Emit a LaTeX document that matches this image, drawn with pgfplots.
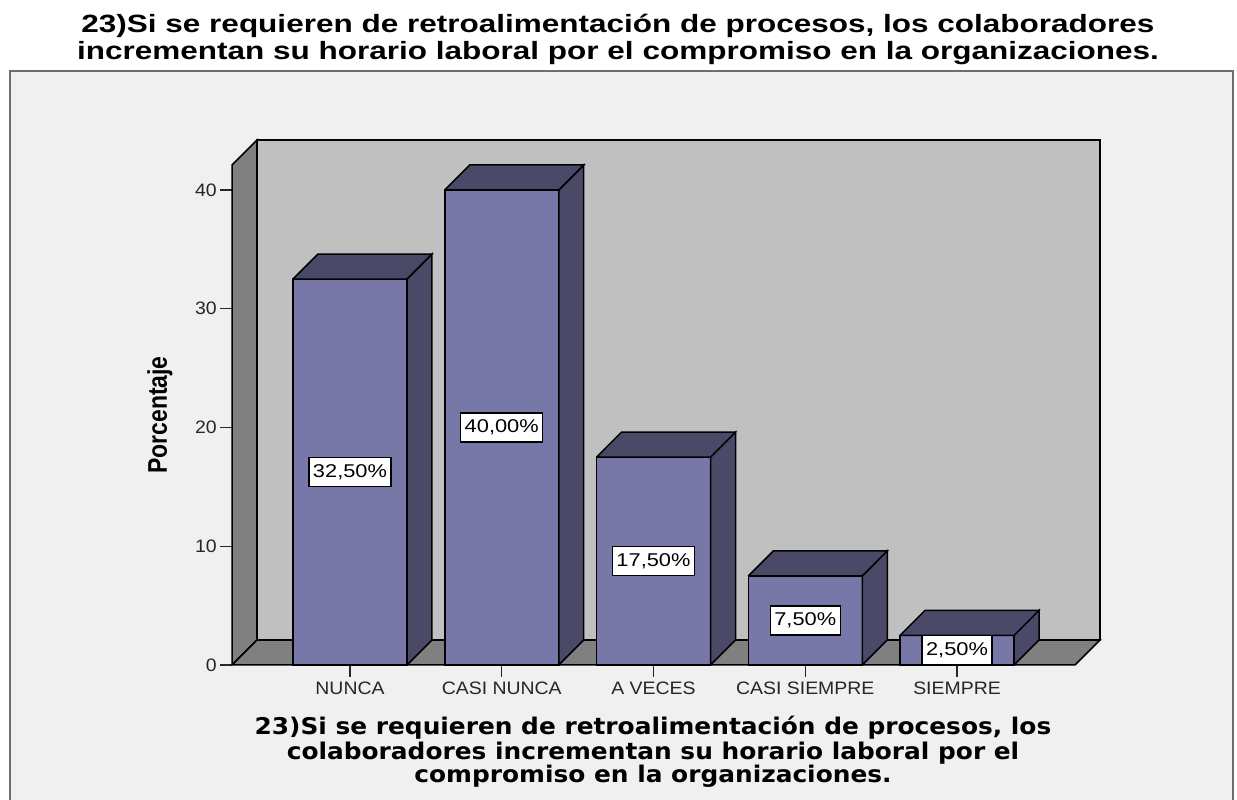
\documentclass[border=0pt]{standalone}
\usepackage{pgfplots}
\pgfplotsset{compat=1.18}
\usepackage{fontspec}
\setmainfont{Liberation Sans}
\newfontfamily\titlefont[FakeStretch=1.26]{Liberation Sans}
\newfontfamily\ticksfont[FakeStretch=1.08]{Liberation Sans}
\newfontfamily\valfont[FakeStretch=1.18]{Liberation Sans}
\newfontfamily\ylabfont[FakeStretch=0.85]{Liberation Sans}
\newfontfamily\dejavu[FakeStretch=1.08]{DejaVu Sans}
\definecolor{outerbg}{HTML}{F0F0F0}
\definecolor{backwall}{HTML}{C0C0C0}
\definecolor{sidewall}{HTML}{808080}
\definecolor{barfront}{HTML}{7878A8}
\definecolor{barside}{HTML}{4A4A68}
\definecolor{framecol}{HTML}{6E6E6E}
\begin{document}
\begin{tikzpicture}[x=1pt,y=1pt]
\useasboundingbox (0,0) rectangle (1237,800);
\fill[white] (0,0) rectangle (1237,800);
\draw[framecol, fill=outerbg, line width=2pt] (10,729) rectangle (1233,-10);
\node[anchor=base, font=\titlefont\bfseries\fontsize{25}{27}\selectfont] at (618,767) {23)Si se requieren de retroalimentación de procesos, los colaboradores};
\node[anchor=base, font=\titlefont\bfseries\fontsize{25}{27}\selectfont] at (618,740) {incrementan su horario laboral por el compromiso en la organizaciones.};
\node[anchor=base, font=\dejavu\bfseries\fontsize{23}{25}\selectfont] at (653,65) {23)Si se requieren de retroalimentación de procesos, los};
\node[anchor=base, font=\dejavu\bfseries\fontsize{23}{25}\selectfont] at (653,40) {colaboradores incrementan su horario laboral por el};
\node[anchor=base, font=\dejavu\bfseries\fontsize{23}{25}\selectfont] at (653,17) {compromiso en la organizaciones.};
\node[rotate=90, font=\ylabfont\bfseries\fontsize{27}{29}\selectfont] at (160,385) {Porcentaje};
\begin{axis}[
  at={(232pt,135pt)}, anchor=south west,
  scale only axis, width=868pt, height=525pt,
  xmin=-0.7776, xmax=4.9423, ymin=0, ymax=44.21,
  clip=false,
  axis lines*=left, axis line style={draw=none},
  ytick={0,10,20,30,40},
  xtick={0,1,2,3,4},
  xticklabels={NUNCA, CASI NUNCA, A VECES, CASI SIEMPRE, SIEMPRE},
  tick align=outside, major tick length=12pt,
  tick style={black!85, line width=1.3pt},
  /pgf/number format/assume math mode=true,
  ticklabel style={font=\ticksfont\fontsize{18}{20}\selectfont, text=black!85},
  yticklabel style={inner sep=0pt, anchor=east, xshift=-3pt},
  xticklabel style={inner sep=0pt, anchor=north, yshift=-5pt},
]
% walls and floor
\addplot[fill=backwall, draw=black, line width=1.5pt] coordinates {(-0.6129,2.105) (4.9423,2.105) (4.9423,44.21) (-0.6129,44.21) (-0.6129,2.105)};
\addplot[fill=sidewall, draw=black, line width=1.5pt] coordinates {(-0.7776,0) (-0.7776,42.105) (-0.6129,44.21) (-0.6129,2.105) (-0.7776,0)};
\addplot[fill=sidewall, draw=black, line width=1.5pt] coordinates {(-0.7776,0) (4.7776,0) (4.9423,2.105) (-0.6129,2.105) (-0.7776,0)};
% bar front faces
\addplot[ybar, bar width=0.7512, fill=barfront, draw=black, line width=1.5pt] coordinates {(0,32.5) (1,40) (2,17.5) (3,7.5) (4,2.5)};
% side faces
\addplot[fill=barside, draw=black, line width=1.5pt] coordinates {(0.3756,0) (0.5403,2.105) (0.5403,34.605) (0.3756,32.5) (0.3756,0)};
\addplot[fill=barside, draw=black, line width=1.5pt] coordinates {(1.3756,0) (1.5403,2.105) (1.5403,42.105) (1.3756,40) (1.3756,0)};
\addplot[fill=barside, draw=black, line width=1.5pt] coordinates {(2.3756,0) (2.5403,2.105) (2.5403,19.605) (2.3756,17.5) (2.3756,0)};
\addplot[fill=barside, draw=black, line width=1.5pt] coordinates {(3.3756,0) (3.5403,2.105) (3.5403,9.605) (3.3756,7.5) (3.3756,0)};
\addplot[fill=barside, draw=black, line width=1.5pt] coordinates {(4.3756,0) (4.5403,2.105) (4.5403,4.605) (4.3756,2.5) (4.3756,0)};
% top faces
\addplot[fill=barside, draw=black, line width=1.5pt] coordinates {(-0.3756,32.5) (-0.2109,34.605) (0.5403,34.605) (0.3756,32.5) (-0.3756,32.5)};
\addplot[fill=barside, draw=black, line width=1.5pt] coordinates {(0.6244,40) (0.7891,42.105) (1.5403,42.105) (1.3756,40) (0.6244,40)};
\addplot[fill=barside, draw=black, line width=1.5pt] coordinates {(1.6244,17.5) (1.7891,19.605) (2.5403,19.605) (2.3756,17.5) (1.6244,17.5)};
\addplot[fill=barside, draw=black, line width=1.5pt] coordinates {(2.6244,7.5) (2.7891,9.605) (3.5403,9.605) (3.3756,7.5) (2.6244,7.5)};
\addplot[fill=barside, draw=black, line width=1.5pt] coordinates {(3.6244,2.5) (3.7891,4.605) (4.5403,4.605) (4.3756,2.5) (3.6244,2.5)};
% value labels
\addplot[draw=none, mark=none, nodes near coords, point meta=explicit symbolic,
  every node near coord/.append style={anchor=center, fill=white, draw=black, line width=1.2pt,
    inner xsep=4pt, inner ysep=0pt, minimum height=29pt, font=\valfont\fontsize{18.5}{20}\selectfont}]
  coordinates {(0,16.25) [{32,50\%}] (1,20) [{40,00\%}] (2,8.75) [{17,50\%}] (3,3.75) [{7,50\%}] (4,1.25) [{2,50\%}]};
\end{axis}
\end{tikzpicture}
\end{document}
